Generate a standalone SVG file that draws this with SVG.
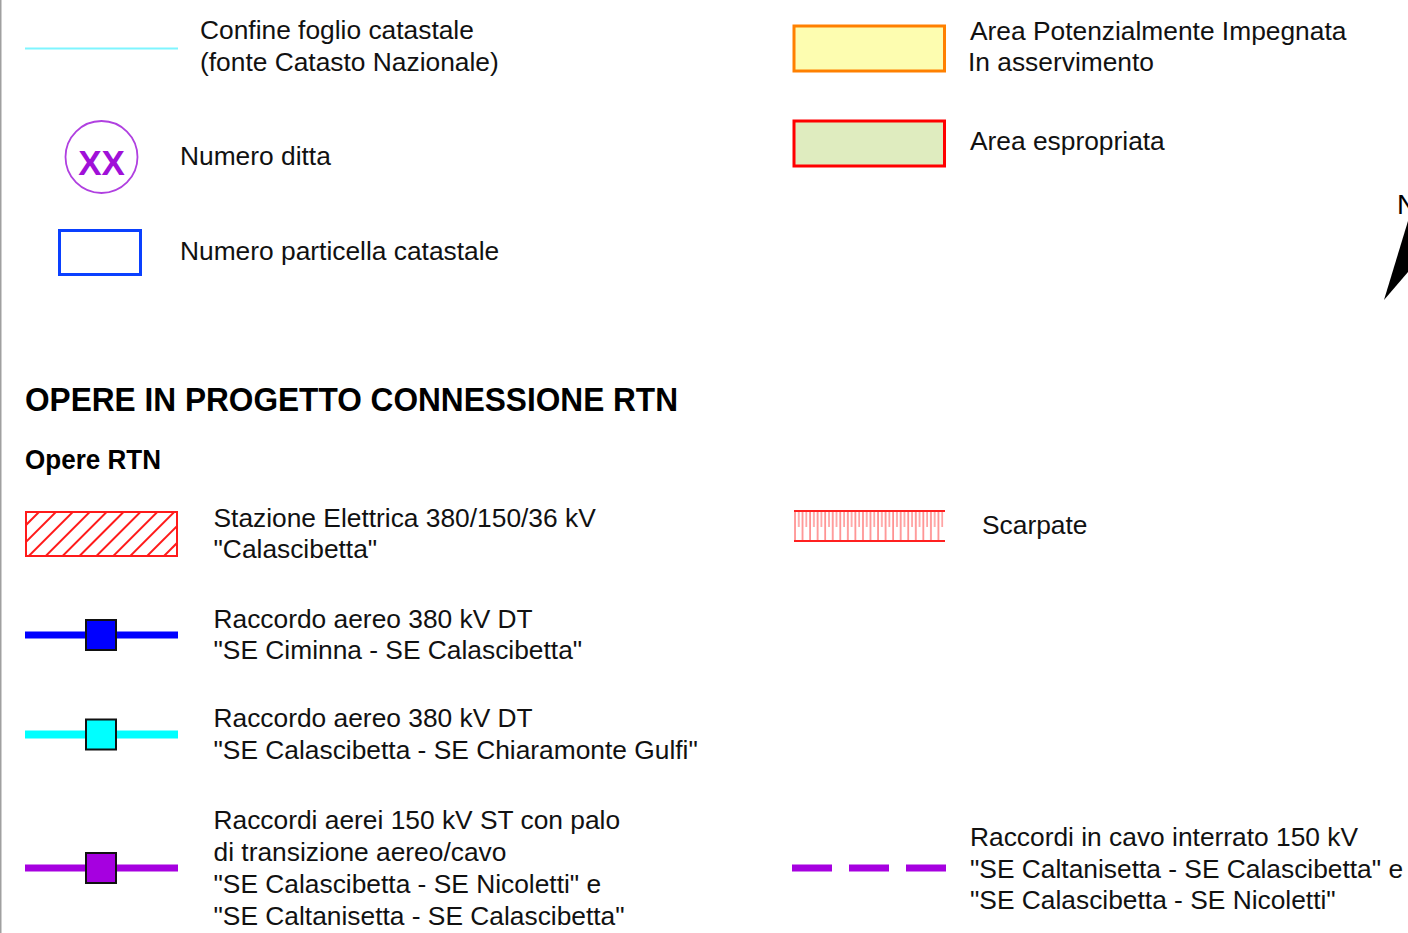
<svg xmlns="http://www.w3.org/2000/svg" width="1408" height="933" viewBox="0 0 1408 933">
<style>
.t{font-family:"Liberation Sans",Arial,sans-serif;font-size:26.35px;fill:#111}
.b{font-family:"Liberation Sans",Arial,sans-serif;font-weight:bold;fill:#000}
.sq{stroke:#111;stroke-width:2}
</style>
<defs>
<pattern id="scarp" x="794" y="511" width="7.55" height="30" patternUnits="userSpaceOnUse">
<line x1="1" y1="0" x2="1" y2="30" stroke="#ff2020" stroke-opacity="0.55" stroke-width="1.6"/>
<line x1="4.8" y1="0" x2="4.8" y2="16" stroke="#ff2020" stroke-opacity="0.45" stroke-width="1.6"/>
</pattern>
<clipPath id="hclip"><rect x="26" y="512" width="151" height="44"/></clipPath>
</defs>
<rect x="0" y="0" width="1408" height="933" fill="#fff"/>
<rect x="0" y="0" width="1.5" height="933" fill="#a0a0a0"/>

<g id="confine">
<line x1="25" y1="48.5" x2="178" y2="48.5" stroke="#7ff5ff" stroke-width="2"/>
<text class="t" x="200" y="39">Confine foglio catastale</text>
<text class="t" x="200" y="71">(fonte Catasto Nazionale)</text>
</g>

<g id="ditta">
<circle cx="101.5" cy="157" r="36" fill="none" stroke="#b040e0" stroke-width="1.8"/>
<text x="101.5" y="175" text-anchor="middle" style="font-family:'Liberation Sans',Arial,sans-serif;font-size:35px;font-weight:bold;fill:#a010d8">XX</text>
<text class="t" x="180" y="165">Numero ditta</text>
</g>

<g id="particella">
<rect x="59.5" y="230.5" width="81" height="44" fill="none" stroke="#0a40ff" stroke-width="3"/>
<text class="t" x="180" y="260">Numero particella catastale</text>
</g>

<g id="impegnata">
<rect x="794" y="26" width="150.5" height="45" fill="#fdfdb0" stroke="#ff8000" stroke-width="3"/>
<text class="t" x="970" y="40">Area Potenzialmente Impegnata</text>
<text class="t" x="968" y="71">In asservimento</text>
</g>

<g id="espropriata">
<rect x="794" y="121" width="150.5" height="45" fill="#dfecbf" stroke="#ff0000" stroke-width="3"/>
<text class="t" x="970" y="150">Area espropriata</text>
</g>

<g id="north">
<text x="1397" y="214" style="font-family:'Liberation Sans',Arial,sans-serif;font-size:28px;fill:#000">N</text>
<polygon points="1384,300 1408,221 1408,272" fill="#000"/>
</g>

<g id="titles">
<text class="b" x="25" y="411" font-size="33" textLength="653" lengthAdjust="spacingAndGlyphs">OPERE IN PROGETTO CONNESSIONE RTN</text>
<text class="b" x="25" y="469" font-size="27" textLength="136" lengthAdjust="spacingAndGlyphs">Opere RTN</text>
</g>

<g id="stazione">
<rect x="26" y="512" width="151" height="44" fill="none" stroke="#ff1a1a" stroke-width="2"/>
<g clip-path="url(#hclip)" stroke="#ff1a1a" stroke-width="2">
<line x1="40" y1="511" x2="-6" y2="557"/>
<line x1="56.9" y1="511" x2="10.9" y2="557"/>
<line x1="73.8" y1="511" x2="27.8" y2="557"/>
<line x1="90.7" y1="511" x2="44.7" y2="557"/>
<line x1="107.6" y1="511" x2="61.6" y2="557"/>
<line x1="124.5" y1="511" x2="78.5" y2="557"/>
<line x1="141.4" y1="511" x2="95.4" y2="557"/>
<line x1="158.3" y1="511" x2="112.3" y2="557"/>
<line x1="175.2" y1="511" x2="129.2" y2="557"/>
<line x1="192.1" y1="511" x2="146.1" y2="557"/>
<line x1="209" y1="511" x2="163" y2="557"/>
<line x1="225.9" y1="511" x2="179.9" y2="557"/>
</g>
<text class="t" x="213.5" y="527">Stazione Elettrica 380/150/36 kV</text>
<text class="t" x="213.5" y="558">"Calascibetta"</text>
</g>

<g id="scarpate">
<rect x="794" y="511" width="151" height="30" fill="url(#scarp)"/>
<line x1="794" y1="511" x2="945" y2="511" stroke="#ff2020" stroke-width="1.8"/>
<line x1="794" y1="541" x2="945" y2="541" stroke="#ff2020" stroke-width="1.8"/>
<text class="t" x="982" y="534">Scarpate</text>
</g>

<g id="connectors">
<line x1="25" y1="635" x2="178" y2="635" stroke="#0000ff" stroke-width="7"/>
<line x1="25" y1="734.5" x2="178" y2="734.5" stroke="#00ffff" stroke-width="8"/>
<line x1="25" y1="868" x2="178" y2="868" stroke="#a600e0" stroke-width="7"/>
<line x1="792" y1="868" x2="946" y2="868" stroke="#a600e0" stroke-width="7" stroke-dasharray="40 17"/>
</g>

<g id="raccordo-ciminna">
<rect class="sq" x="86" y="620" width="30" height="30" fill="#0000ff"/>
<text class="t" x="213.5" y="628">Raccordo aereo 380 kV DT</text>
<text class="t" x="213.5" y="659">"SE Ciminna - SE Calascibetta"</text>
</g>

<g id="raccordo-chiaramonte">
<rect class="sq" x="86" y="719.5" width="30" height="30" fill="#00ffff"/>
<text class="t" x="213.5" y="727">Raccordo aereo 380 kV DT</text>
<text class="t" x="213.5" y="759">"SE Calascibetta - SE Chiaramonte Gulfi"</text>
</g>

<g id="raccordi-150">
<rect class="sq" x="86" y="853" width="30" height="30" fill="#a600e0"/>
<text class="t" x="213.5" y="829">Raccordi aerei 150 kV ST con palo</text>
<text class="t" x="213.5" y="861">di transizione aereo/cavo</text>
<text class="t" x="213.5" y="893">"SE Calascibetta - SE Nicoletti" e</text>
<text class="t" x="213.5" y="925">"SE Caltanisetta - SE Calascibetta"</text>
</g>

<g id="cavo-interrato">
<text class="t" x="970" y="846">Raccordi in cavo interrato 150 kV</text>
<text class="t" x="970" y="878">"SE Caltanisetta - SE Calascibetta" e</text>
<text class="t" x="970" y="909">"SE Calascibetta - SE Nicoletti"</text>
</g>
</svg>
